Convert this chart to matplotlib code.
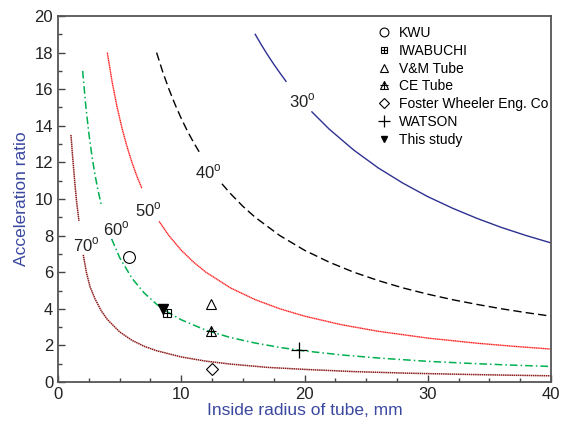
import numpy as np
import matplotlib
matplotlib.use('Agg')
import matplotlib.pyplot as plt
from matplotlib.ticker import MultipleLocator

plt.rcParams['font.family'] = ['Liberation Sans', 'DejaVu Sans']
plt.rcParams['mathtext.fontset'] = 'custom'
plt.rcParams['mathtext.rm'] = 'Liberation Sans'

nan = np.nan

# curves (gaps where the angle labels sit)
x30 = [16.0, 16.5, 17.0, 17.5, 18.0, 18.5, nan, 20.6, 22, 24, 26, 28, 30, 32, 34, 36, 38, 40]
y30 = [19.0, 18.42, 17.88, 17.37, 16.89, 16.43, nan, 14.76, 13.82, 12.67, 11.69, 10.86, 10.13,
       9.5, 8.94, 8.44, 8.0, 7.6]

x40 = [8.0, 8.5, 9, 9.5, 10, 10.5, 11, 11.45, nan, 13.3, 14, 15, 16, 18, 20, 22, 24, 26, 28,
       30, 32, 34, 36, 38, 40]
y40 = [18.0, 16.94, 16.0, 15.16, 14.4, 13.71, 13.09, 12.58, nan, 10.83, 10.29, 9.6, 9.0, 8.0,
       7.2, 6.55, 6.0, 5.54, 5.14, 4.8, 4.5, 4.24, 4.0, 3.79, 3.6]

x50 = [4.0, 4.4, 4.8, 5.2, 5.6, 6.0, 6.4, 6.8, nan, 8.2, 9, 10, 11, 12, 14, 16, 18, 20, 23, 26,
       30, 34, 37, 40]
y50 = [18.0, 16.36, 15.0, 13.85, 12.86, 12.0, 11.25, 10.59, nan, 8.78, 8.0, 7.2, 6.55, 6.0,
       5.14, 4.5, 4.0, 3.6, 3.13, 2.77, 2.4, 2.12, 1.95, 1.8]

x60 = [2.0, 2.25, 2.5, 2.75, 3.0, 3.25, 3.5, nan, 4.35, 5, 6, 7, 8, 9, 10, 12, 14, 16, 18, 20,
       23, 26, 30, 34, 37, 40]
y60 = [17.0, 15.11, 13.6, 12.36, 11.33, 10.46, 9.71, nan, 7.82, 6.8, 5.67, 4.86, 4.25, 3.78,
       3.4, 2.83, 2.43, 2.13, 1.89, 1.7, 1.48, 1.31, 1.13, 1.0, 0.92, 0.85]

x70 = [1.05, 1.2, 1.35, 1.5, 1.7, nan, 2.05, 2.3, 2.6, 3.0, 3.5, 4, 5, 6, 7, 8, 10, 12, 14, 17,
       20, 24, 28, 32, 36, 40]
y70 = [13.5, 12.2, 11.0, 9.9, 8.8, nan, 6.95, 6.0, 5.2, 4.55, 3.9, 3.42, 2.74, 2.28, 1.95,
       1.71, 1.37, 1.14, 0.98, 0.8, 0.69, 0.57, 0.49, 0.43, 0.38, 0.34]

# measured points
kwu = (5.73, 6.81)
iwabuchi = (8.84, 3.79)
vm_tube = (12.4, 4.24)
ce_tube = (12.4, 2.8)
foster = (12.5, 0.71)
watson = (19.57, 1.75)
this_study = (8.5, 3.99)

fig = plt.figure(figsize=(5.61, 4.24), dpi=100)
ax = fig.add_axes([0.1034, 0.099, 0.8788, 0.8633])

ax.plot(x30, y30, color='#2e3192', lw=1.0)
ax.plot(x40, y40, color='black', lw=1.0, ls=(0, (6, 3)))
ax.plot(x50, y50, color='#ff2020', lw=1.0, ls=(0, (1, 0.3)))
ax.plot(x60, y60, color='#00b050', lw=1.1, ls=(0, (5, 2, 1, 2)))
ax.plot(x70, y70, color='#8b1a1a', lw=1.1, ls=(0, (1, 0.4)))

lab = dict(fontsize=12, ha='center', va='center', color='#222222')
ax.text(19.84, 15.37, r'30$^\mathrm{o}$', **lab)
ax.text(12.18, 11.5, r'40$^\mathrm{o}$', **lab)
ax.text(7.34, 9.4, r'50$^\mathrm{o}$', **lab)
ax.text(4.72, 8.39, r'60$^\mathrm{o}$', **lab)
ax.text(2.26, 7.49, r'70$^\mathrm{o}$', **lab)

op = dict(ls='none', mfc='none', mec='black', mew=0.8)
h1, = ax.plot(*kwu, marker='o', ms=8.5, **op)
h2a, = ax.plot(*iwabuchi, marker='s', ms=6, **op)
h2b, = ax.plot(*iwabuchi, marker='+', ms=6, **op)
h3, = ax.plot(*vm_tube, marker='^', ms=7.5, **op)
h4a, = ax.plot(*ce_tube, marker='^', ms=7.5, **op)
h4b, = ax.plot(*ce_tube, marker='+', ms=7, **op)
h5, = ax.plot(*foster, marker='D', ms=6.5, **op)
h6, = ax.plot(*watson, marker='+', ms=11, ls='none', color='black', mew=0.9)
h7, = ax.plot(*this_study, marker='v', ms=6.5, ls='none', color='black')

ax.legend([h1, (h2a, h2b), h3, (h4a, h4b), h5, h6, h7],
          ['KWU', 'IWABUCHI', 'V&M Tube', 'CE Tube', 'Foster Wheeler Eng. Co', 'WATSON', 'This study'],
          loc='upper right', bbox_to_anchor=(1.0, 0.98), frameon=False, fontsize=10,
          handlelength=1.0, handletextpad=0.6, labelspacing=0.27, borderaxespad=0.0,
          borderpad=0.2, markerscale=0.75)

ax.set_xlim(0, 40)
ax.set_ylim(0, 20)
ax.xaxis.set_major_locator(MultipleLocator(10))
ax.xaxis.set_minor_locator(MultipleLocator(2.5))
ax.yaxis.set_major_locator(MultipleLocator(2))
ax.yaxis.set_minor_locator(MultipleLocator(1))
ax.tick_params(which='both', direction='in', top=False, right=False, color='#444444',
               labelsize=12, labelcolor='#222222', width=1.0)
ax.tick_params(which='major', length=5)
ax.tick_params(which='minor', length=3)
for s in ax.spines.values():
    s.set_color('#555555')
    s.set_linewidth(1.3)

ax.set_xlabel('Inside radius of tube, mm', fontsize=12.5, color='#3a48a0', labelpad=1)
ax.set_ylabel('Acceleration ratio', fontsize=12.5, color='#3a48a0', labelpad=4)

fig.savefig('out.png', dpi=100)
